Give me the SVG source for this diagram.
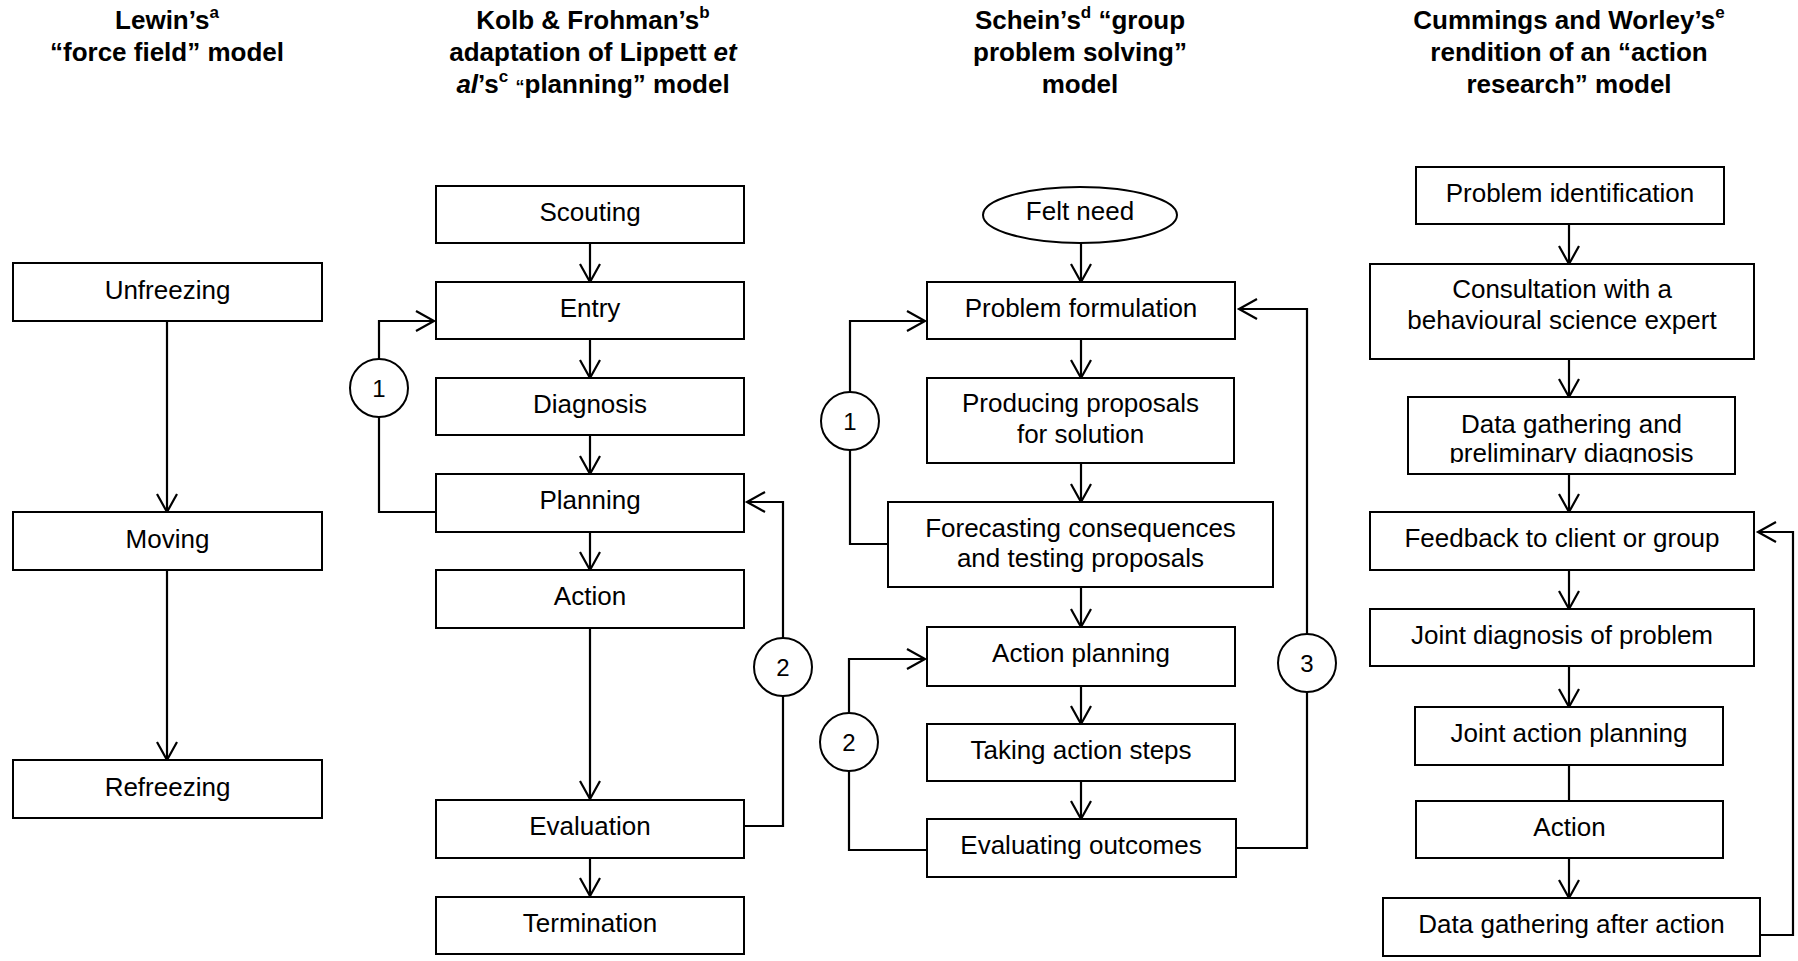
<svg xmlns="http://www.w3.org/2000/svg" width="1798" height="961" viewBox="0 0 1798 961">
  <style>
    .box { fill: #fff; stroke: #000; stroke-width: 2; }
    .lbl { font-family: "Liberation Sans", Arial, sans-serif; font-size: 26px; text-anchor: middle; fill: #000; }
    .num { font-family: "Liberation Sans", Arial, sans-serif; font-size: 24px; text-anchor: middle; fill: #000; }
    .hdr { font-family: "Liberation Sans", Arial, sans-serif; font-size: 26px; font-weight: bold; text-anchor: middle; fill: #000; }
    .sup { font-size: 17px; }
    .edge { fill: none; stroke: #000; stroke-width: 2.2; }
    .arr { marker-end: url(#open); }
  </style>
  <defs>
    <marker id="open" markerUnits="userSpaceOnUse" markerWidth="24" markerHeight="24" viewBox="-20 -12 24 24" refX="0" refY="0" orient="auto">
      <path d="M-18,-10 L0,0 L-18,10" fill="none" stroke="#000" stroke-width="2.2"/>
    </marker>
    <clipPath id="clipDataGathering">
      <rect x="1408" y="397" width="327" height="66"/>
    </clipPath>
  </defs>
  <rect width="1798" height="961" fill="#fff"/>

  <!-- column headings -->
  <g id="headings">
    <text class="hdr" x="167" y="29">Lewin’s<tspan class="sup" dy="-11">a</tspan></text>
    <text class="hdr" x="167" y="61">“force field” model</text>

    <text class="hdr" x="593" y="29">Kolb &amp; Frohman’s<tspan class="sup" dy="-11">b</tspan></text>
    <text class="hdr" x="593" y="61">adaptation of Lippett <tspan font-style="italic">et</tspan></text>
    <text class="hdr" x="593" y="93"><tspan font-style="italic">al</tspan>’s<tspan class="sup" dy="-11">c</tspan><tspan dy="11"> </tspan><tspan font-size="18">“</tspan>planning” model</text>

    <text class="hdr" x="1080" y="29">Schein’s<tspan class="sup" dy="-11">d</tspan><tspan dy="11"> “group</tspan></text>
    <text class="hdr" x="1080" y="61">problem solving”</text>
    <text class="hdr" x="1080" y="93">model</text>

    <text class="hdr" x="1569" y="29">Cummings and Worley’s<tspan class="sup" dy="-11">e</tspan></text>
    <text class="hdr" x="1569" y="61">rendition of an “action</text>
    <text class="hdr" x="1569" y="93">research” model</text>
  </g>

  <!-- connectors -->
  <g id="connectors">
    <!-- Lewin -->
    <line class="edge arr" x1="167" y1="321" x2="167" y2="512"/>
    <line class="edge arr" x1="167" y1="570" x2="167" y2="760"/>

    <!-- Kolb & Frohman -->
    <line class="edge arr" x1="590" y1="243" x2="590" y2="282"/>
    <line class="edge arr" x1="590" y1="339" x2="590" y2="378"/>
    <line class="edge arr" x1="590" y1="435" x2="590" y2="474"/>
    <line class="edge arr" x1="590" y1="532" x2="590" y2="570"/>
    <line class="edge arr" x1="590" y1="628" x2="590" y2="799"/>
    <line class="edge arr" x1="590" y1="858" x2="590" y2="896"/>
    <polyline class="edge arr" points="436,512 379,512 379,321 434,321"/>
    <polyline class="edge arr" points="744,826 783,826 783,502 747,502"/>

    <!-- Schein -->
    <line class="edge arr" x1="1081" y1="243" x2="1081" y2="282"/>
    <line class="edge arr" x1="1081" y1="339" x2="1081" y2="378"/>
    <line class="edge arr" x1="1081" y1="463" x2="1081" y2="502"/>
    <line class="edge arr" x1="1081" y1="587" x2="1081" y2="627"/>
    <line class="edge arr" x1="1081" y1="686" x2="1081" y2="724"/>
    <line class="edge arr" x1="1081" y1="781" x2="1081" y2="819"/>
    <polyline class="edge arr" points="888,544 850,544 850,321 925,321"/>
    <polyline class="edge arr" points="927,850 849,850 849,659 925,659"/>
    <polyline class="edge arr" points="1236,848 1307,848 1307,309 1239,309"/>

    <!-- Cummings & Worley -->
    <line class="edge arr" x1="1569" y1="224" x2="1569" y2="264"/>
    <line class="edge arr" x1="1569" y1="359" x2="1569" y2="397"/>
    <line class="edge arr" x1="1569" y1="474" x2="1569" y2="512"/>
    <line class="edge arr" x1="1569" y1="570" x2="1569" y2="609"/>
    <line class="edge arr" x1="1569" y1="666" x2="1569" y2="707"/>
    <line class="edge" x1="1569" y1="765" x2="1569" y2="801"/>
    <line class="edge arr" x1="1569" y1="858" x2="1569" y2="898"/>
    <polyline class="edge arr" points="1760,935 1793,935 1793,532 1758,532"/>
  </g>

  <!-- Lewin: force field model -->
  <g id="unfreezing"><rect class="box" x="13" y="263" width="309" height="58"/><text class="lbl" x="167.5" y="299">Unfreezing</text></g>
  <g id="moving"><rect class="box" x="13" y="512" width="309" height="58"/><text class="lbl" x="167.5" y="548">Moving</text></g>
  <g id="refreezing"><rect class="box" x="13" y="760" width="309" height="58"/><text class="lbl" x="167.5" y="796">Refreezing</text></g>

  <!-- Kolb & Frohman: planning model -->
  <g id="scouting"><rect class="box" x="436" y="186" width="308" height="57"/><text class="lbl" x="590" y="221">Scouting</text></g>
  <g id="entry"><rect class="box" x="436" y="282" width="308" height="57"/><text class="lbl" x="590" y="317">Entry</text></g>
  <g id="diagnosis"><rect class="box" x="436" y="378" width="308" height="57"/><text class="lbl" x="590" y="413">Diagnosis</text></g>
  <g id="planning"><rect class="box" x="436" y="474" width="308" height="58"/><text class="lbl" x="590" y="509">Planning</text></g>
  <g id="action-kf"><rect class="box" x="436" y="570" width="308" height="58"/><text class="lbl" x="590" y="605">Action</text></g>
  <g id="evaluation"><rect class="box" x="436" y="800" width="308" height="58"/><text class="lbl" x="590" y="835">Evaluation</text></g>
  <g id="termination"><rect class="box" x="436" y="897" width="308" height="57"/><text class="lbl" x="590" y="932">Termination</text></g>
  <g id="kf-loop1"><circle class="box" cx="379" cy="388" r="29"/><text class="num" x="379" y="397">1</text></g>
  <g id="kf-loop2"><circle class="box" cx="783" cy="667" r="29"/><text class="num" x="783" y="676">2</text></g>

  <!-- Schein: group problem solving model -->
  <g id="felt-need"><ellipse class="box" cx="1080" cy="215" rx="97" ry="28"/><text class="lbl" x="1080" y="220">Felt need</text></g>
  <g id="problem-formulation"><rect class="box" x="927" y="282" width="308" height="57"/><text class="lbl" x="1081" y="317">Problem formulation</text></g>
  <g id="producing-proposals"><rect class="box" x="927" y="378" width="307" height="85"/><text class="lbl" x="1080.5" y="412">Producing proposals</text><text class="lbl" x="1080.5" y="443">for solution</text></g>
  <g id="forecasting"><rect class="box" x="888" y="502" width="385" height="85"/><text class="lbl" x="1080.5" y="537">Forecasting consequences</text><text class="lbl" x="1080.5" y="567">and testing proposals</text></g>
  <g id="action-planning"><rect class="box" x="927" y="627" width="308" height="59"/><text class="lbl" x="1081" y="662">Action planning</text></g>
  <g id="taking-action"><rect class="box" x="927" y="724" width="308" height="57"/><text class="lbl" x="1081" y="759">Taking action steps</text></g>
  <g id="evaluating-outcomes"><rect class="box" x="927" y="819" width="309" height="58"/><text class="lbl" x="1081" y="854">Evaluating outcomes</text></g>
  <g id="s-loop1"><circle class="box" cx="850" cy="421" r="29"/><text class="num" x="850" y="430">1</text></g>
  <g id="s-loop2"><circle class="box" cx="849" cy="742" r="29"/><text class="num" x="849" y="751">2</text></g>
  <g id="s-loop3"><circle class="box" cx="1307" cy="663" r="29"/><text class="num" x="1307" y="672">3</text></g>

  <!-- Cummings & Worley: action research model -->
  <g id="problem-identification"><rect class="box" x="1416" y="167" width="308" height="57"/><text class="lbl" x="1570" y="202">Problem identification</text></g>
  <g id="consultation"><rect class="box" x="1370" y="264" width="384" height="95"/><text class="lbl" x="1562" y="298">Consultation with a</text><text class="lbl" x="1562" y="329">behavioural science expert</text></g>
  <g id="data-gathering"><rect class="box" x="1408" y="397" width="327" height="77"/><g clip-path="url(#clipDataGathering)"><text class="lbl" x="1571.5" y="433">Data gathering and</text><text class="lbl" x="1571.5" y="462">preliminary diagnosis</text></g></g>
  <g id="feedback"><rect class="box" x="1370" y="512" width="384" height="58"/><text class="lbl" x="1562" y="547">Feedback to client or group</text></g>
  <g id="joint-diagnosis"><rect class="box" x="1370" y="609" width="384" height="57"/><text class="lbl" x="1562" y="644">Joint diagnosis of problem</text></g>
  <g id="joint-action-planning"><rect class="box" x="1415" y="707" width="308" height="58"/><text class="lbl" x="1569" y="742">Joint action planning</text></g>
  <g id="action-cw"><rect class="box" x="1416" y="801" width="307" height="57"/><text class="lbl" x="1569.5" y="836">Action</text></g>
  <g id="data-after-action"><rect class="box" x="1383" y="898" width="377" height="58"/><text class="lbl" x="1571.5" y="933">Data gathering after action</text></g>
</svg>
